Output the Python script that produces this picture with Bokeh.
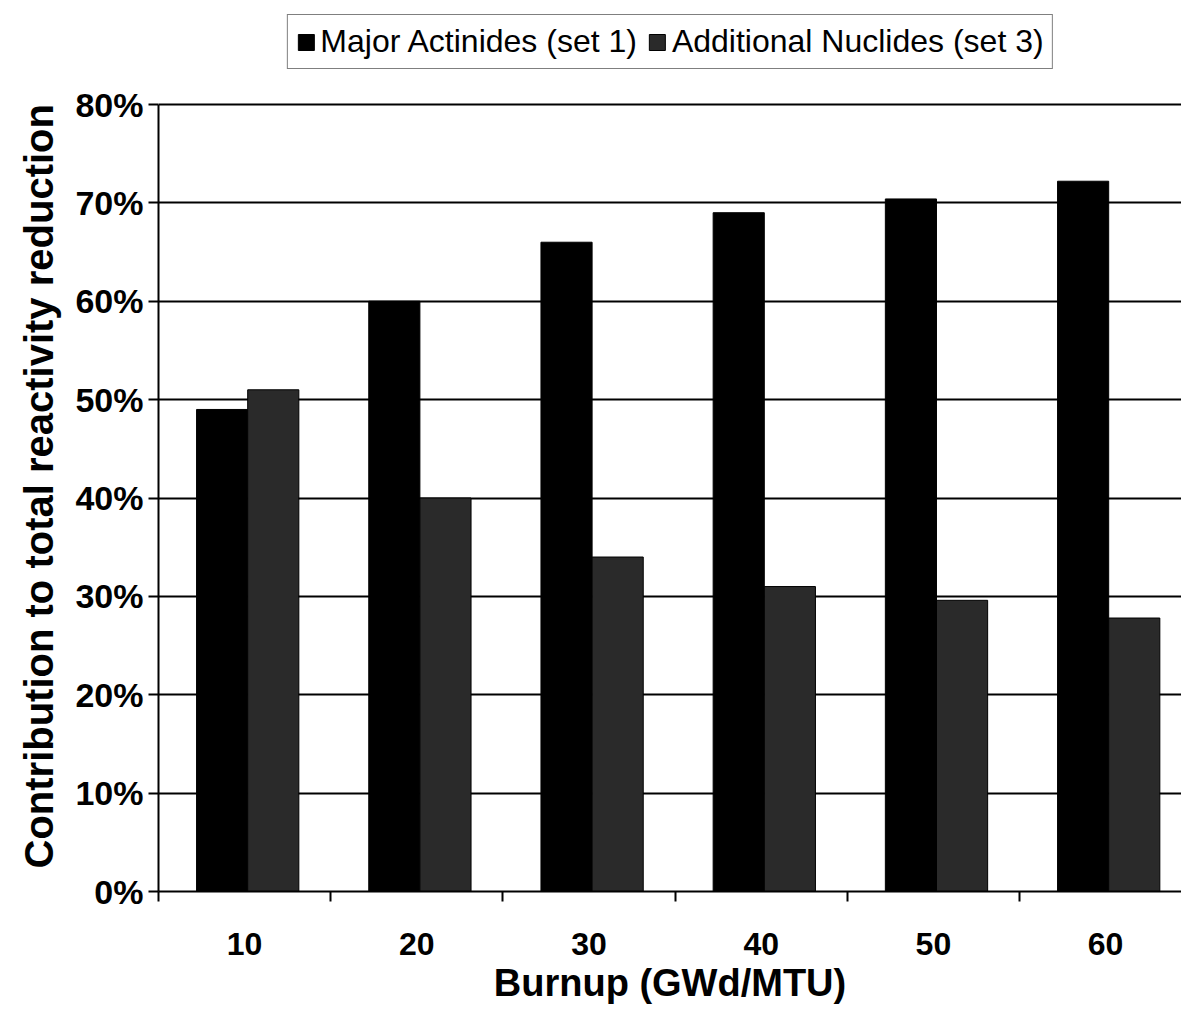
import numpy as np
from bokeh.plotting import figure
from bokeh.models import (Range1d, FixedTicker, NumeralTickFormatter, Legend, LegendItem,
                          ColumnDataSource, Title)
from bokeh.embed import file_html
from bokeh.resources import INLINE

# ---- data ----
burnup = ["10", "20", "30", "40", "50", "60"]
major_actinides = [0.49, 0.60, 0.66, 0.69, 0.704, 0.722]
additional_nuclides = [0.51, 0.40, 0.34, 0.31, 0.296, 0.278]
y_ticks = [0.0, 0.1, 0.2, 0.3, 0.4, 0.5, 0.6, 0.7, 0.8]
y_title = "Contribution to total reactivity reduction"
x_title = "Burnup (GWd/MTU)"
series_labels = ["Major Actinides (set 1)", "Additional Nuclides (set 3)"]

FONT = "Liberation Sans"

# ---- layout geometry (pixels) ----
W, H = 1181, 1011
LEFT, TOP, BOTTOM = 158, 5, 891          # frame edges
AXIS_TOP = 104                             # where the 80% line sits
CAT_PX = 172.2                             # width of one category

idx = np.arange(len(burnup))
bar_w = 0.297
src = ColumnDataSource(dict(
    x1=idx + 0.518 - bar_w / 2,
    x3=idx + 0.518 + bar_w / 2,
    set1=major_actinides,
    set3=additional_nuclides,
))

y_lo, y_hi = y_ticks[0], y_ticks[-1]
y_end = y_hi + (AXIS_TOP - TOP) * (y_hi - y_lo) / (BOTTOM - AXIS_TOP)
x_end = (W - LEFT) / CAT_PX

p = figure(width=W, height=H, output_backend="svg", toolbar_location=None,
           x_range=Range1d(0, x_end), y_range=Range1d(y_lo, y_end),
           min_border_left=LEFT, min_border_top=TOP, min_border_right=0,
           min_border_bottom=H - BOTTOM)
p.outline_line_color = None
p.background_fill_color = "white"
p.border_fill_color = "white"

r1 = p.vbar(x="x1", top="set1", width=bar_w, source=src, fill_color="black",
            line_color="black", line_width=1)
r3 = p.vbar(x="x3", top="set3", width=bar_w, source=src, fill_color="#2a2a2a",
            line_color="black", line_width=1)

# grid
p.xgrid.visible = False
p.ygrid.ticker = FixedTicker(ticks=y_ticks)
p.ygrid.grid_line_color = "black"
p.ygrid.grid_line_width = 2

# y axis
ya = p.yaxis[0]
ya.bounds = (y_lo, y_hi)
ya.ticker = FixedTicker(ticks=y_ticks)
ya.formatter = NumeralTickFormatter(format="0%")
ya.axis_line_color = "black"
ya.axis_line_width = 2
ya.major_tick_line_color = "black"
ya.major_tick_line_width = 2
ya.major_tick_out = 10
ya.major_tick_in = 0
ya.minor_tick_line_color = None
ya.major_label_text_font = FONT
ya.major_label_text_font_size = "34px"
ya.major_label_text_font_style = "bold"
ya.major_label_text_color = "black"
ya.major_label_standoff = 5

# y title as a side title so it can sit lower than the frame centre
yt = Title(text=y_title, align="left", vertical_align="top", offset=23, standoff=20,
           text_font=FONT, text_font_size="40px", text_font_style="bold",
           text_color="black")
p.add_layout(yt, "left")

# x axis: labels at category centres, ticks at category boundaries
xa = p.xaxis[0]
centres = [float(i) + 0.5 for i in idx]
bounds = [float(i) for i in range(len(burnup) + 1)]
xa.ticker = FixedTicker(ticks=centres, minor_ticks=bounds)
xa.major_label_overrides = {c: lab for c, lab in zip(centres, burnup)}
xa.axis_line_color = "black"
xa.axis_line_width = 2
xa.major_tick_line_color = None
xa.major_tick_out = 10
xa.major_tick_in = 0
xa.minor_tick_line_color = "black"
xa.minor_tick_line_width = 2
xa.minor_tick_out = 10
xa.minor_tick_in = 0
xa.major_label_text_font = FONT
xa.major_label_text_font_size = "32px"
xa.major_label_text_font_style = "bold"
xa.major_label_text_color = "black"
xa.major_label_standoff = 31
xa.axis_label = x_title
xa.axis_label_text_font = FONT
xa.axis_label_text_font_size = "38px"
xa.axis_label_text_font_style = "bold"
xa.axis_label_text_color = "black"
xa.axis_label_standoff = 4

legend = Legend(items=[LegendItem(label=series_labels[0], renderers=[r1]),
                       LegendItem(label=series_labels[1], renderers=[r3])],
                orientation="horizontal", location="top_center")
legend.label_text_font = FONT
legend.label_text_font_size = "32px"
legend.label_text_color = "black"
legend.glyph_width = 20
legend.glyph_height = 20
legend.label_standoff = 5
legend.spacing = 10
legend.padding = 8
legend.margin = 9
legend.label_height = 30
legend.border_line_color = "black"
legend.border_line_width = 1.5
legend.background_fill_color = "white"
legend.background_fill_alpha = 1
p.add_layout(legend, "center")

open("out.html", "w").write(file_html(p, INLINE))
